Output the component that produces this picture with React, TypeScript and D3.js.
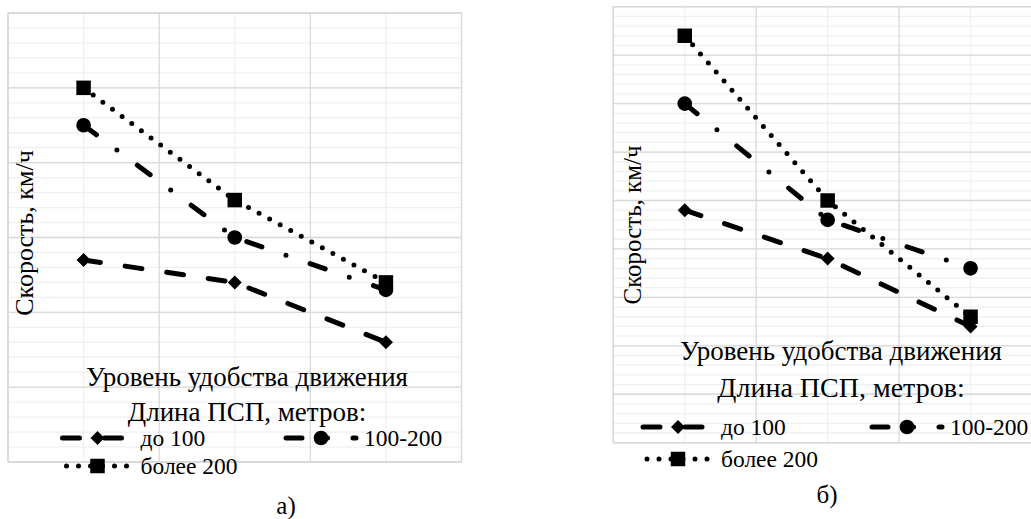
import React from "react";
import * as d3 from "d3";

// ---------- data ----------
const categories = ["I", "II", "III"];
const seriesNames = ["до 100", "100-200", "более 200"];

// panel а)
const aUpTo100 = [27, 24, 16];
const a100to200 = [45, 30, 23];
const aOver200 = [50, 35, 24];

// panel б)
const bUpTo100 = [48, 38, 24];
const b100to200 = [70, 46, 36];
const bOver200 = [84, 50, 26];

const yTitle = "Скорость, км/ч";
const xTitle = "Уровень удобства движения";
const legendTitle = "Длина ПСП, метров:";
const panelLabels = ["а)", "б)"];

// ---------- styles ----------
const FONT = "Liberation Serif";
const MAJOR = "#d9d9d9";
const MINOR = "#f0f0f0";
const dashes = ["17 25", "16 25.5 0 25.5", "0 12"];
const legendExtent = [[-35, 31], [-35, 35], [-31, 31]];
const markers = [d3.symbolDiamond2, d3.symbolCircle, d3.symbolSquare];
const markerSizes = [125, 170, 210];

type PanelProps = {
  x0: number; x1: number; yTop: number; yBottom: number;
  yMax: number; yStep: number; yMinorStep: number;
  series: number[][];
  yTitleX: number; yTitleY: number; yTitleSize: number;
  xTitleX: number; xTitleY: number; xTitleSize: number;
  legTitleY: number; legTitleSize: number;
  leg1X: number; leg2X: number; legRow1Y: number; legRow2Y: number;
  labelX: number; labelY: number; label: string;
  legendSize: number;
};

function Panel(p: PanelProps) {
  const x = d3.scaleBand<string>().domain(categories).range([p.x0, p.x1]).padding(0);
  const y = d3.scaleLinear().domain([0, p.yMax]).range([p.yBottom, p.yTop]);
  const cx = (c: string) => (x(c) as number) + x.bandwidth() / 2;
  const minorTicks = d3.range(0, p.yMax + 1e-9, p.yMinorStep);
  const majorTicks = d3.range(0, p.yMax + 1e-9, p.yStep);
  const line = d3.line<number>().x((_, i) => cx(categories[i])).y((v) => y(v));
  const sym = (i: number) => d3.symbol().type(markers[i]).size(markerSizes[i])() as string;

  const legendItems = [
    { i: 0, cx: p.leg1X, cy: p.legRow1Y },
    { i: 1, cx: p.leg2X, cy: p.legRow1Y },
    { i: 2, cx: p.leg1X, cy: p.legRow2Y },
  ];

  return (
    <g>
      {minorTicks.map((t, k) => (
        <line key={"mh" + k} x1={p.x0} x2={p.x1} y1={y(t)} y2={y(t)} stroke={MINOR} strokeWidth={1.3} />
      ))}
      {categories.map((c) => (
        <line key={"mv" + c} x1={cx(c)} x2={cx(c)} y1={p.yTop} y2={p.yBottom} stroke={MINOR} strokeWidth={1.3} />
      ))}
      {majorTicks.map((t, k) => (
        <line key={"Mh" + k} x1={p.x0} x2={p.x1} y1={y(t)} y2={y(t)} stroke={MAJOR} strokeWidth={1.3} />
      ))}
      {categories.map((c) => (
        <line key={"Mv" + c} x1={x(c) as number} x2={x(c) as number} y1={p.yTop} y2={p.yBottom} stroke={MAJOR} strokeWidth={1.3} />
      ))}
      <rect x={p.x0} y={p.yTop} width={p.x1 - p.x0} height={p.yBottom - p.yTop} fill="none" stroke={MAJOR} strokeWidth={1.5} />

      {p.series.map((vals, i) => (
        <g key={"s" + i}>
          <path d={line(vals) as string} fill="none" stroke="#000" strokeWidth={5} strokeDasharray={dashes[i]} strokeLinecap="round" strokeLinejoin="round" />
          {vals.map((v, j) => (
            <path key={j} d={sym(i)} transform={`translate(${cx(categories[j])},${y(v)})`} fill="#000" />
          ))}
        </g>
      ))}

      <text transform={`translate(${p.yTitleX},${p.yTitleY}) rotate(-90)`} textAnchor="middle" fontFamily={FONT} fontSize={p.yTitleSize}>{yTitle}</text>
      <text x={p.xTitleX} y={p.xTitleY} textAnchor="middle" fontFamily={FONT} fontSize={p.xTitleSize}>{xTitle}</text>
      <text x={p.xTitleX} y={p.legTitleY} textAnchor="middle" fontFamily={FONT} fontSize={p.legTitleSize}>{legendTitle}</text>

      {legendItems.map((it) => (
        <g key={"l" + it.i}>
          <line x1={it.cx + legendExtent[it.i][0]} x2={it.cx + legendExtent[it.i][1]} y1={it.cy} y2={it.cy} stroke="#000" strokeWidth={5} strokeDasharray={dashes[it.i]} strokeLinecap="round" />
          <path d={sym(it.i)} transform={`translate(${it.cx},${it.cy})`} fill="#000" />
          <text x={it.cx + 43} y={it.cy + 7.5} fontFamily={FONT} fontSize={p.legendSize}>{seriesNames[it.i]}</text>
        </g>
      ))}

      <text x={p.labelX} y={p.labelY} textAnchor="middle" fontFamily={FONT} fontSize={25}>{p.label}</text>
    </g>
  );
}

export default function App() {
  return (
    <svg width={1031} height={519} style={{ position: "absolute", left: 0, top: 0, background: "#fff" }}>
      <rect width={1031} height={519} fill="#fff" />
      <Panel
        x0={8} x1={461.5} yTop={13} yBottom={462}
        yMax={60} yStep={10} yMinorStep={2}
        series={[aUpTo100, a100to200, aOver200]}
        yTitleX={33} yTitleY={233} yTitleSize={26}
        xTitleX={247} xTitleY={386} xTitleSize={27}
        legTitleY={421} legTitleSize={27}
        leg1X={97.5} leg2X={321} legRow1Y={438} legRow2Y={466}
        labelX={286} labelY={514} label={panelLabels[0]}
        legendSize={23.5}
      />
      <Panel
        x0={613.3} x1={1042} yTop={6.7} yBottom={442.7}
        yMax={90} yStep={10} yMinorStep={2}
        series={[bUpTo100, b100to200, bOver200]}
        yTitleX={641} yTitleY={225} yTitleSize={25}
        xTitleX={841} xTitleY={360} xTitleSize={27}
        legTitleY={397} legTitleSize={28}
        leg1X={678} leg2X={907} legRow1Y={427} legRow2Y={459}
        labelX={827} labelY={503} label={panelLabels[1]}
        legendSize={23.5}
      />
    </svg>
  );
}
